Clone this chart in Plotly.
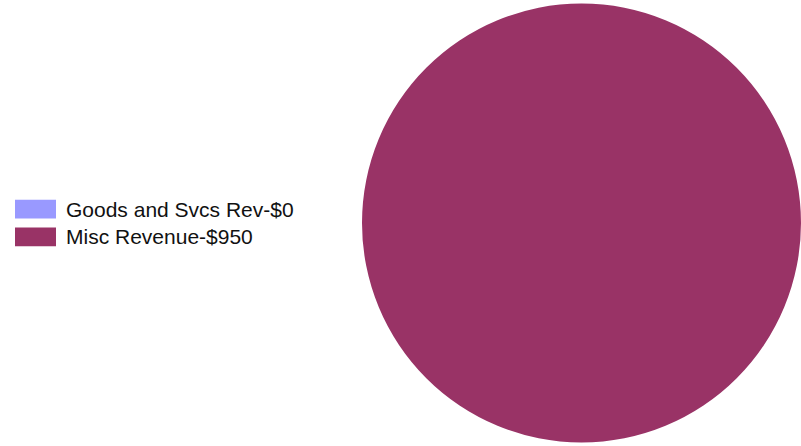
import plotly.graph_objects as go

labels = ["Goods and Svcs Rev", "Misc Revenue"]
values = [0, 950]
colors = ["#9999FF", "#993366"]

W, H = 801, 446

fig = go.Figure()
fig.add_trace(go.Pie(
    labels=labels,
    values=values,
    marker=dict(colors=colors, line=dict(width=0)),
    textinfo="none",
    sort=False,
    direction="clockwise",
    showlegend=False,
    domain=dict(x=[362 / W, 1.0], y=[0.0, 1.0]),
    hoverinfo="label+value",
))

# legend drawn as swatches + text
row_y = [209, 237]
for lab, val, col, yc in zip(labels, values, colors, row_y):
    fig.add_shape(type="rect", xref="paper", yref="paper",
                  x0=15 / W, x1=56 / W, y0=1 - (yc + 9.5) / H, y1=1 - (yc - 9.5) / H,
                  fillcolor=col, line=dict(width=0))
    fig.add_annotation(xref="paper", yref="paper", x=64 / W, y=1 - yc / H,
                       xanchor="left", yanchor="middle", showarrow=False,
                       text=f"{lab}-${val:,}",
                       font=dict(family="Liberation Sans, Arial, sans-serif", size=21, color="#111111"))

fig.update_layout(
    width=W, height=H,
    margin=dict(l=0, r=0, t=3, b=3),
    paper_bgcolor="white", plot_bgcolor="white",
)

fig.write_html("out.html", config={"displayModeBar": False},
               post_script="document.body.style.margin='0';")
